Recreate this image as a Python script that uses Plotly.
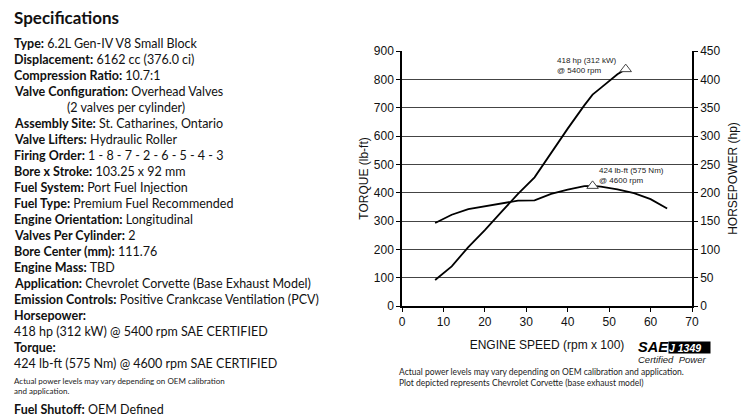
import plotly.graph_objects as go

# Engine speed in rpm x 100
torque_rpm = [8, 12, 16, 20, 24, 28, 32, 36, 40, 44, 46, 48, 52, 56, 60, 64]
torque_lbft = [293, 322, 342, 352, 364, 372, 373, 396, 411, 423, 424, 421, 412, 398, 377, 344]

power_rpm = [8, 12, 16, 20, 24, 28, 32, 36, 40, 44, 46, 48, 52, 54]
power_hp = [46, 70, 104, 134, 166, 198, 227, 271, 313, 354, 373, 385, 409, 418]

peak_torque_rpm = [46]
peak_torque = [424]
peak_power_rpm = [54]
peak_power = [418]

x_ticks = [0, 10, 20, 30, 40, 50, 60, 70]
torque_ticks = [0, 100, 200, 300, 400, 500, 600, 700, 800, 900]
power_ticks = [0, 50, 100, 150, 200, 250, 300, 350, 400, 450]

spec_lines = [
    ("Type:", "6.2L Gen-IV V8 Small Block"),
    ("Displacement:", "6162 cc (376.0 ci)"),
    ("Compression Ratio:", "10.7:1"),
    ("Valve Configuration:", "Overhead Valves"),
    ("", "(2 valves per cylinder)"),
    ("Assembly Site:", "St. Catharines, Ontario"),
    ("Valve Lifters:", "Hydraulic Roller"),
    ("Firing Order:", "1 - 8 - 7 - 2 - 6 - 5 - 4 - 3"),
    ("Bore x Stroke:", "103.25 x 92 mm"),
    ("Fuel System:", "Port Fuel Injection"),
    ("Fuel Type:", "Premium Fuel Recommended"),
    ("Engine Orientation:", "Longitudinal"),
    ("Valves Per Cylinder:", "2"),
    ("Bore Center (mm):", "111.76"),
    ("Engine Mass:", "TBD"),
    ("Application:", "Chevrolet Corvette (Base Exhaust Model)"),
    ("Emission Controls:", "Positive Crankcase Ventilation (PCV)"),
    ("Horsepower:", ""),
    ("", "418 hp (312 kW) @ 5400 rpm SAE CERTIFIED"),
    ("Torque:", ""),
    ("", "424 lb-ft (575 Nm) @ 4600 rpm SAE CERTIFIED"),
]

# plot area in pixels
W, H = 750, 420
L, R, T, B = 402, 58, 51, 114
PW, PH = W - L - R, H - T - B


def px(x):
    return (x - L) / PW


def py(y):
    return 1 - (y - T) / PH


TXT = "Lato, Noto Sans, sans-serif"
ARIAL = "Liberation Sans, Arial, sans-serif"


def note(text, x, y, size, family=TXT, xanchor="left", color="#111", **kw):
    return dict(text=text, x=px(x), y=py(y), xref="paper", yref="paper",
                xanchor=xanchor, yanchor="middle", align="left", showarrow=False,
                font=dict(family=family, size=size, color=color), **kw)


fig = go.Figure()

fig.add_trace(go.Scatter(x=torque_rpm, y=torque_lbft, mode="lines",
                         line=dict(color="black", width=1.8), hoverinfo="skip"))
fig.add_trace(go.Scatter(x=power_rpm, y=power_hp, mode="lines", yaxis="y2",
                         line=dict(color="black", width=1.8), hoverinfo="skip"))
fig.add_trace(go.Scatter(x=peak_torque_rpm, y=peak_torque, mode="markers",
                         marker=dict(symbol="triangle-up", size=10, color="white",
                                     line=dict(color="#444", width=1))))
fig.add_trace(go.Scatter(x=peak_power_rpm, y=peak_power, mode="markers", yaxis="y2",
                         marker=dict(symbol="triangle-up", size=10, color="white",
                                     line=dict(color="#444", width=1))))

annotations = []

# left column text
annotations.append(note("<b>Specifications</b>", 12, 17, 17))
for i, (label, value) in enumerate(spec_lines):
    txt = (f"<b>{label}</b> " if label else "") + value
    x0 = 12 if (label or i > 4) else 65
    annotations.append(note(txt, x0, 43 + 16 * i, 12.5))
annotations.append(note("Actual power levels may vary depending on OEM calibration<br>and application.",
                        12, 386, 8, color="#222"))
annotations.append(note("<b>Fuel Shutoff:</b> OEM Defined", 12, 409, 12.5))

# peak labels
annotations.append(note("418 hp (312 kW)<br>@ 5400 rpm", 555, 65, 8, family=ARIAL, color="#222"))
annotations.append(note("424 lb-ft (575 Nm)<br>@ 4600 rpm", 597, 175, 8, family=ARIAL, color="#222"))

# notes under chart
annotations.append(note("Actual power levels may vary depending on OEM calibration and application.<br>"
                        "Plot depicted represents Chevrolet Corvette (base exhaust model)",
                        397, 377, 8.5, color="#222"))

# SAE J1349 badge
annotations.append(note("<b><i>SAE</i></b>", 653, 347, 14.5, family=ARIAL, xanchor="center", color="black"))
annotations.append(note("<b><i>J 1349</i></b>", 689.5, 347.5, 10.5, family=ARIAL, xanchor="center",
                        color="white", bgcolor="black", borderpad=0, width=41, height=11))
annotations.append(note("<i>Certified  Power</i>", 672, 359, 9.5, family=ARIAL, xanchor="center",
                        color="#222"))

axis_font = dict(family=ARIAL, size=12, color="#111")

fig.update_layout(
    width=W, height=H,
    margin=dict(l=L, r=R, t=T, b=B),
    paper_bgcolor="white", plot_bgcolor="white",
    showlegend=False,
    annotations=annotations,
    xaxis=dict(range=[0, 70], tickvals=x_ticks, showgrid=False, zeroline=False,
               showline=True, linecolor="black", linewidth=1.5, automargin=False,
               ticks="outside", ticklen=4, tickcolor="black", tickfont=axis_font,
               title=dict(text="ENGINE SPEED (rpm x 100)", standoff=12, font=axis_font)),
    yaxis=dict(range=[0, 900], tickvals=torque_ticks, showgrid=True, gridcolor="#444",
               gridwidth=1, zeroline=False, showline=True, linecolor="black", linewidth=1.5,
               automargin=False, ticks="outside", ticklen=4, tickcolor="black",
               tickfont=axis_font,
               title=dict(text="TORQUE (lb-ft)", standoff=3, font=axis_font)),
    yaxis2=dict(range=[0, 450], tickvals=power_ticks, overlaying="y", side="right",
                showgrid=False, zeroline=False, showline=True, linecolor="black",
                linewidth=1.5, automargin=False, ticks="outside", ticklen=4,
                tickcolor="black", tickfont=axis_font,
                title=dict(text="HORSEPOWER (hp)", standoff=9, font=axis_font)),
)

# drop the browser's default 8px page margin so the figure fills the window
fig.write_html("out.html", config={"displayModeBar": False},
               post_script="document.body.style.margin = '0';")
